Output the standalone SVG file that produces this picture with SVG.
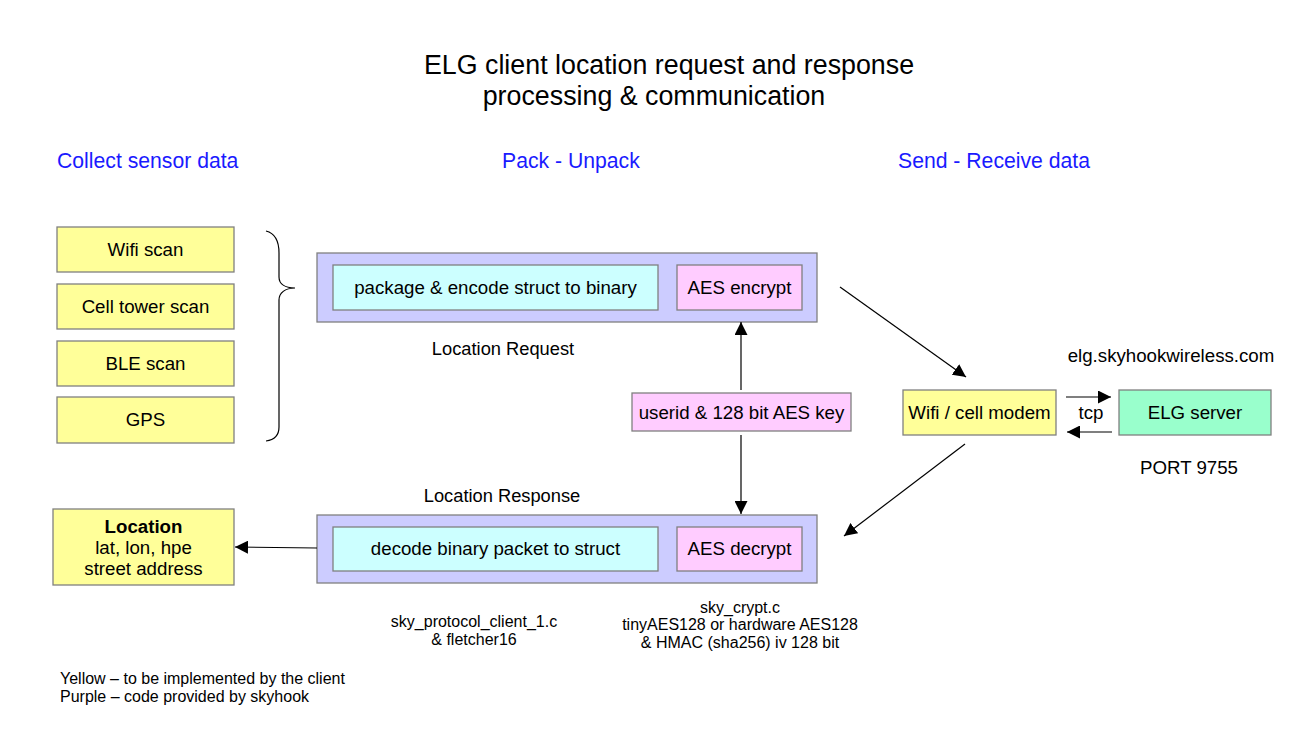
<svg xmlns="http://www.w3.org/2000/svg" width="1300" height="734" viewBox="0 0 1300 734">
<style>
text{font-family:"Liberation Sans",Arial,sans-serif;fill:#000}
.t{font-size:18.7px;text-anchor:middle}
.h{font-size:21.2px;fill:#1a1aff}
.title{font-size:26.8px;text-anchor:middle}
.s{font-size:16px;text-anchor:middle}
.l{font-size:16px}
.box{stroke:#808080;stroke-width:1.3}
.y{fill:#ffff99}.p{fill:#ccccff}.c{fill:#ccffff}.k{fill:#ffccff}.g{fill:#99ffcc}
.ln{stroke:#000;stroke-width:1.2;fill:none}
</style>
<defs>
<marker id="ah" viewBox="0 0 10 10" refX="10" refY="5" markerWidth="13" markerHeight="13" markerUnits="userSpaceOnUse" orient="auto">
<path d="M0,0 L10,5 L0,10 z" fill="#000"/>
</marker>
</defs>
<rect width="1300" height="734" fill="#fff"/>
<g id="titles">
<text class="title" x="669" y="74">ELG client location request and response</text>
<text class="title" x="654" y="105">processing &amp; communication</text>
<text class="h" x="57" y="168">Collect sensor data</text>
<text class="h" x="502" y="168">Pack - Unpack</text>
<text class="h" x="898" y="168">Send - Receive data</text>
</g>
<g id="wifi"><rect class="box y" x="57" y="227" width="177" height="45"/><text class="t" x="145.5" y="256">Wifi scan</text></g>
<g id="cell"><rect class="box y" x="57" y="284" width="177" height="45"/><text class="t" x="145.5" y="313">Cell tower scan</text></g>
<g id="ble"><rect class="box y" x="57" y="341" width="177" height="45"/><text class="t" x="145.5" y="370">BLE scan</text></g>
<g id="gps"><rect class="box y" x="57" y="397" width="177" height="46"/><text class="t" x="145.5" y="426">GPS</text></g>
<g id="brace"><path class="ln" d="M266,231 C274,233 279,240 279,253 L279,277 C279,284 285,288 295,288 C285,288 279,293 279,300 L279,427 C279,436 274,440 266,441"/></g>
<g id="request">
<rect class="box p" x="317" y="253" width="500" height="69"/>
<rect class="box c" x="333" y="265" width="325" height="45"/>
<text class="t" x="495.5" y="294">package &amp; encode struct to binary</text>
<rect class="box k" x="677" y="265" width="125" height="45"/>
<text class="t" x="739.5" y="294">AES encrypt</text>
<text class="t" x="503" y="355" style="font-size:18.3px">Location Request</text>
</g>
<g id="response">
<rect class="box p" x="317" y="515" width="500" height="68"/>
<rect class="box c" x="333" y="527" width="325" height="44"/>
<text class="t" x="495.5" y="555">decode binary packet to struct</text>
<rect class="box k" x="677" y="527" width="125" height="44"/>
<text class="t" x="739.5" y="555">AES decrypt</text>
<text class="t" x="502" y="502" style="font-size:18.3px">Location Response</text>
</g>
<g id="location">
<rect class="box y" x="53" y="509" width="181" height="76"/>
<text class="t" x="143.5" y="533" font-weight="bold">Location</text>
<text class="t" x="143.5" y="554">lat, lon, hpe</text>
<text class="t" x="143.5" y="575">street address</text>
</g>
<g id="key"><rect class="box k" x="632" y="393" width="219" height="38"/><text class="t" x="741.5" y="419">userid &amp; 128 bit AES key</text></g>
<g id="modem"><rect class="box y" x="903" y="390" width="153" height="45"/><text class="t" x="979.5" y="419">Wifi / cell modem</text></g>
<g id="server"><rect class="box g" x="1119" y="390" width="152" height="45"/><text class="t" x="1195" y="419">ELG server</text>
<text class="t" x="1171" y="362">elg.skyhookwireless.com</text>
<text class="t" x="1189" y="474">PORT 9755</text></g>
<g id="notes">
<text class="s" x="474" y="627">sky_protocol_client_1.c</text>
<text class="s" x="474" y="645">&amp; fletcher16</text>
<text class="s" x="740" y="613">sky_crypt.c</text>
<text class="s" x="740" y="630">tinyAES128 or hardware AES128</text>
<text class="s" x="740" y="648">&amp; HMAC (sha256) iv 128 bit</text>
<text class="l" x="60" y="684">Yellow – to be implemented by the client</text>
<text class="l" x="60" y="702">Purple – code provided by skyhook</text>
</g>
<g id="connectors">
<line class="ln" x1="317" y1="548" x2="235" y2="547" marker-end="url(#ah)"/>
<line class="ln" x1="741" y1="390" x2="741" y2="322" marker-end="url(#ah)"/>
<line class="ln" x1="741" y1="435" x2="741" y2="514" marker-end="url(#ah)"/>
<line class="ln" x1="840" y1="287" x2="966" y2="377" marker-end="url(#ah)"/>
<line class="ln" x1="965" y1="444" x2="844" y2="536" marker-end="url(#ah)"/>
<line class="ln" x1="1066" y1="397" x2="1111" y2="397" marker-end="url(#ah)"/>
<line class="ln" x1="1112" y1="432" x2="1067" y2="432" marker-end="url(#ah)"/>
<text class="t" x="1091" y="419">tcp</text>
</g>
</svg>
